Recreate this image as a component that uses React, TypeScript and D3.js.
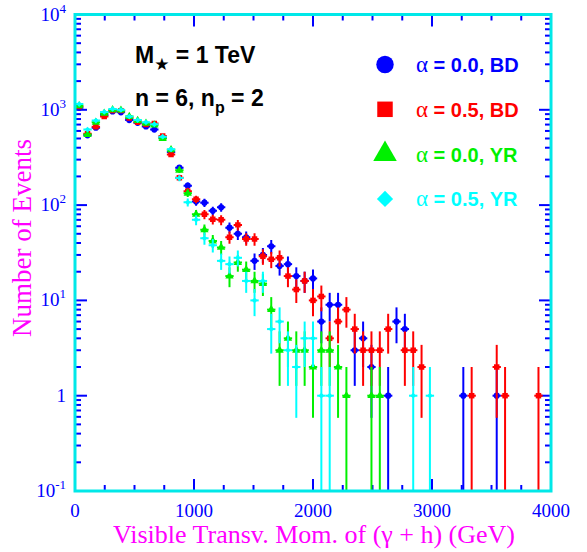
import * as d3 from "d3";

// histogram binning (GeV)
const xMin = 0;
const xMax = 4000;
const nBins = 57;

// event counts per bin (0 = empty bin)
const countsBD00 = [
  1050, 540, 650, 880, 960, 940, 780, 730, 670, 620, 510, 360, 247, 160, 109, 106, 87, 95, 58, 50,
  46, 26, 30, 37, 23, 24, 18, 16, 17, 6, 9, 9, 0, 3, 4, 2, 0, 1, 6, 5,
  0, 0, 0, 0, 0, 0, 1, 0, 0, 0, 1, 0, 0, 0, 0, 0, 0,
];
const countsBD05 = [
  1080, 560, 665, 850, 980, 980, 820, 740, 700, 720, 530, 340, 194, 140, 115, 80, 71, 70, 46, 62,
  44, 44, 29, 27, 28, 18, 13, 16, 10, 11, 4, 6, 8, 5, 3, 3, 3, 5, 0, 3,
  3, 2, 0, 0, 0, 0, 0, 1, 0, 0, 2, 1, 0, 0, 0, 1, 0,
];
const countsYR00 = [
  1100, 550, 740, 920, 1000, 990, 850, 770, 720, 690, 500, 380, 232, 133, 80, 55, 42, 36, 18, 25,
  21, 16, 15, 8, 3, 4, 3, 3, 2, 3, 3, 2, 1, 0, 0, 1, 1, 0, 0, 0,
  0, 0, 0, 0, 0, 0, 0, 0, 0, 0, 0, 0, 0, 0, 0, 0, 0,
];
const countsYR05 = [
  1150, 620, 770, 950, 1020, 1000, 850, 780, 740, 705, 522, 385, 192, 107, 70, 45, 38, 26, 24, 28,
  16, 10, 16, 5, 6, 3, 2, 4, 4, 1, 1, 0, 0, 0, 0, 0, 0, 0, 0, 0,
  1, 0, 1, 0, 0, 0, 0, 0, 0, 0, 0, 0, 0, 0, 0, 0, 0,
];

const legendAlpha = ["0.0, BD", "0.5, BD", "0.0, YR", "0.5, YR"];
const seriesColors = ["#0000ff", "#ff0000", "#00f000", "#00ffff"];
const seriesShapes = ["circle", "square", "triangle", "diamond"];
const seriesCounts = [countsBD00, countsBD05, countsYR00, countsYR05];

const xTickLabels = [0, 1000, 2000, 3000, 4000];
const yDecades = [-1, 0, 1, 2, 3, 4];

const W = 587;
const H = 552;
const left = 75;
const right = 551;
const top = 14.5;
const bottom = 491;

const x = d3.scaleLinear().domain([xMin, xMax]).range([left, right]);
const y = d3.scaleLog().domain([0.1, 1e4]).range([bottom, top]).clamp(true);

const binW = (xMax - xMin) / nBins;

function symbolPath(shape: string, size: number) {
  const type =
    shape === "circle"
      ? d3.symbolCircle
      : shape === "triangle"
      ? d3.symbolTriangle
      : d3.symbolSquare;
  return d3.symbol().type(type).size(size)() as string;
}

function Marker({ shape, color, cx, cy, size }: any) {
  const rot = shape === "diamond" ? 45 : 0;
  const s = shape === "diamond" ? size * 0.55 : size;
  return (
    <path
      d={symbolPath(shape, s)}
      fill={color}
      transform={`translate(${cx},${cy}) rotate(${rot})`}
    />
  );
}

function YLabel({ d }: { d: number }) {
  const ty = y(Math.pow(10, d));
  if (d === 0) {
    return (
      <text x={66} y={ty + 6} textAnchor="end" fontSize={19}>
        1
      </text>
    );
  }
  const sup = String(d);
  return (
    <text x={66} y={ty + 6} textAnchor="end" fontSize={19}>
      10
      <tspan dy={-8} fontSize={13}>
        {sup}
      </tspan>
    </text>
  );
}

export default function App() {
  const xMinor = d3.range(0, 4001, 250);
  const yMinor: number[] = [];
  yDecades.slice(0, -1).forEach((d) => {
    for (let m = 2; m <= 9; m++) yMinor.push(m * Math.pow(10, d));
  });

  return (
    <svg
      width={W}
      height={H}
      style={{ position: "absolute", left: 0, top: 0, background: "#fff" }}
      fontFamily="'Liberation Serif', 'Times New Roman', serif"
    >
      <defs>
        <clipPath id="frame">
          <rect x={left} y={top} width={right - left} height={bottom - top} />
        </clipPath>
      </defs>

      {/* ticks */}
      <g stroke="#0000ff" strokeWidth={2}>
        {xMinor.map((v) => {
          const len = v % 1000 === 0 ? 12 : 6;
          return (
            <g key={"xt" + v}>
              <line x1={x(v)} x2={x(v)} y1={bottom} y2={bottom - len} />
              <line x1={x(v)} x2={x(v)} y1={top} y2={top + len} />
            </g>
          );
        })}
        {yDecades.map((d) => (
          <g key={"yM" + d}>
            <line x1={left} x2={left + 12} y1={y(Math.pow(10, d))} y2={y(Math.pow(10, d))} />
            <line x1={right} x2={right - 12} y1={y(Math.pow(10, d))} y2={y(Math.pow(10, d))} />
          </g>
        ))}
        {yMinor.map((v) => (
          <g key={"ym" + v}>
            <line x1={left} x2={left + 6} y1={y(v)} y2={y(v)} />
            <line x1={right} x2={right - 6} y1={y(v)} y2={y(v)} />
          </g>
        ))}
      </g>

      {/* data */}
      <g clipPath="url(#frame)">
        {seriesCounts.map((counts, si) => (
          <g key={"s" + si} stroke={seriesColors[si]} strokeWidth={2}>
            {counts.map((n, k) => {
              if (n <= 0) return null;
              const c = xMin + (k + 0.5) * binW;
              const err = Math.sqrt(n);
              const lo = Math.max(n - err, 0.05);
              return (
                <g key={k}>
                  <line x1={x(c)} x2={x(c)} y1={y(n + err)} y2={lo <= 0.1 ? bottom + 2 : y(lo)} />
                  <line x1={x(c - binW / 2)} x2={x(c + binW / 2)} y1={y(n)} y2={y(n)} />
                  <g stroke="none">
                    <Marker shape={seriesShapes[si]} color={seriesColors[si]} cx={x(c)} cy={y(n)} size={30} />
                  </g>
                </g>
              );
            })}
          </g>
        ))}
      </g>

      {/* frame */}
      <rect
        x={left}
        y={top}
        width={right - left}
        height={bottom - top}
        fill="none"
        stroke="#00e8e8"
        strokeWidth={3}
      />

      {/* tick labels */}
      <g fill="#0000ff">
        {xTickLabels.map((v) => (
          <text key={"xl" + v} x={x(v)} y={517} textAnchor="middle" fontSize={19}>
            {v}
          </text>
        ))}
        {yDecades.map((d) => (
          <YLabel key={"yl" + d} d={d} />
        ))}
      </g>

      {/* axis titles */}
      <text x={314} y={543} textAnchor="middle" fontSize={26} fill="#ff00ff">
        Visible Transv. Mom. of (γ + h) (GeV)
      </text>
      <text
        transform="translate(31,238) rotate(-90)"
        textAnchor="middle"
        fontSize={27}
        fill="#ff00ff"
      >
        Number of Events
      </text>

      {/* annotations */}
      <g fontFamily="'Liberation Sans', Arial, sans-serif" fontWeight="bold" fontSize={23} fill="#000">
        <text x={135} y={63}>
          M
          <tspan dy={7} fontSize={17} fontFamily="'DejaVu Sans', sans-serif">
            ★
          </tspan>
          <tspan dy={-7}> = 1 TeV</tspan>
        </text>
        <text x={135} y={106}>
          n = 6, n
          <tspan dy={7} fontSize={16}>
            p
          </tspan>
          <tspan dy={-7}> = 2</tspan>
        </text>
      </g>

      {/* legend */}
      {legendAlpha.map((lab, i) => {
        const base = 72 + i * 44.8;
        return (
          <g key={"lg" + i}>
            <Marker shape={seriesShapes[i]} color={seriesColors[i]} cx={385} cy={base - 7.5} size={240} />
            <text x={416} y={base} fill={seriesColors[i]} fontSize={20}>
              <tspan fontFamily="'Liberation Serif', serif" fontSize={23}>
                α
              </tspan>
              <tspan fontFamily="'Liberation Sans', Arial, sans-serif" fontWeight="bold">
                {" = " + lab}
              </tspan>
            </text>
          </g>
        );
      })}
    </svg>
  );
}
